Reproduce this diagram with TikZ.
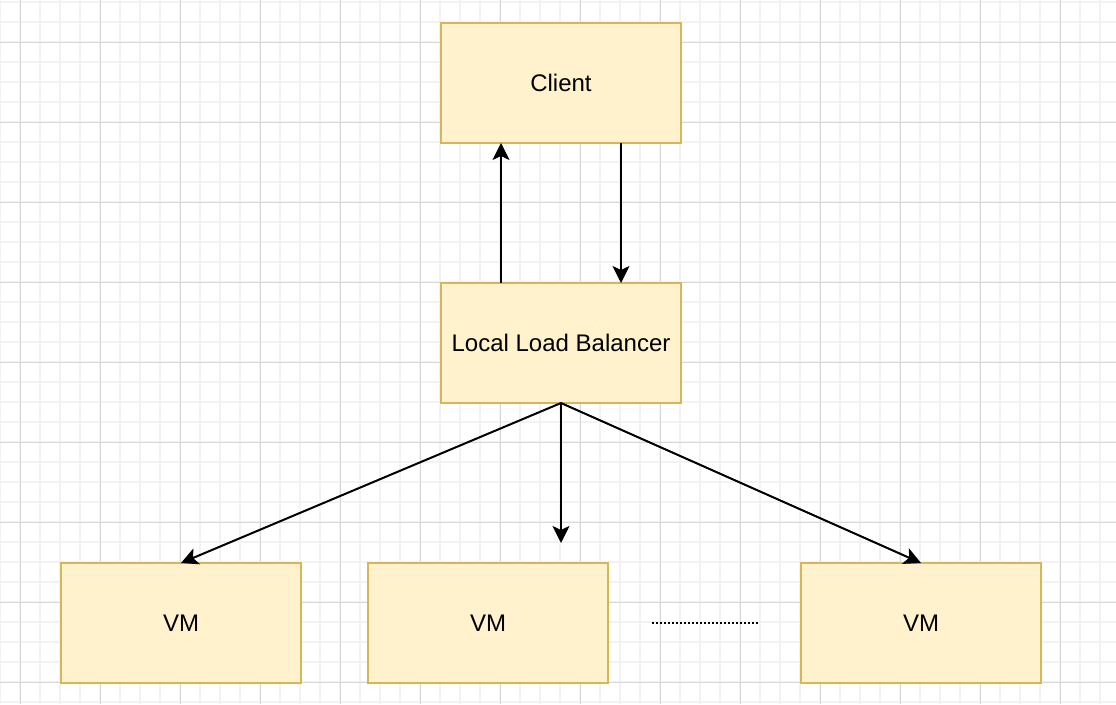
\documentclass[tikz,border=0pt]{standalone}
\usepackage{fontspec}
\setmainfont{Liberation Sans}
\usetikzlibrary{arrows.meta}
\definecolor{boxfill}{HTML}{FFF2CC}
\definecolor{boxline}{HTML}{D6B656}
\definecolor{gridminor}{HTML}{F2F2F2}
\definecolor{gridmajor}{HTML}{D8D8D8}
\begin{document}
\begin{tikzpicture}[x=1pt,y=-1pt,
  box/.style={draw=boxline, fill=boxfill, line width=2pt, minimum width=240pt, minimum height=120pt, inner sep=0pt, outer sep=0pt, font=\fontsize{24}{28}\selectfont, text=black},
  conn/.style={line width=2pt, -{Stealth[length=17pt,width=17pt,inset=4pt]}},
  dotline/.style={line width=2pt, dash pattern=on 2pt off 2pt}
]
\useasboundingbox (0,0) rectangle (1116,704);
\fill[white] (0,0) rectangle (1116,704);
% minor grid
\foreach \x in {0,20,...,1116} \draw[gridminor, line width=1.5pt] (\x,0) -- (\x,704);
\foreach \y in {2,22,...,704} \draw[gridminor, line width=1.5pt] (0,\y) -- (1116,\y);
% major grid
\foreach \x in {20,100,...,1116} \draw[gridmajor, line width=1pt] (\x,0) -- (\x,704);
\foreach \y in {42,122,...,704} \draw[gridmajor, line width=1pt] (0,\y) -- (1116,\y);

\node[box] (client) at (561,83) {Client};
\node[box] (llb) at (561,343) {Local Load Balancer};
\node[box] (vm1) at (181,623) {VM};
\node[box] (vm2) at (488,623) {VM};
\node[box] (vm3) at (921,623) {VM};

\coordinate (mid) at (561,543);
\coordinate (d1) at (652,623);
\coordinate (d2) at (758,623);

\draw[conn] ([xshift=-60pt]llb.north) -- ([xshift=-60pt]client.south);
\draw[conn] ([xshift=60pt]client.south) -- ([xshift=60pt]llb.north);
\draw[conn] (llb.south) -- (vm1.north);
\draw[conn] (llb.south) -- (mid);
\draw[conn] (llb.south) -- (vm3.north);
\draw[dotline] (d1) -- (d2);
\end{tikzpicture}
\end{document}
